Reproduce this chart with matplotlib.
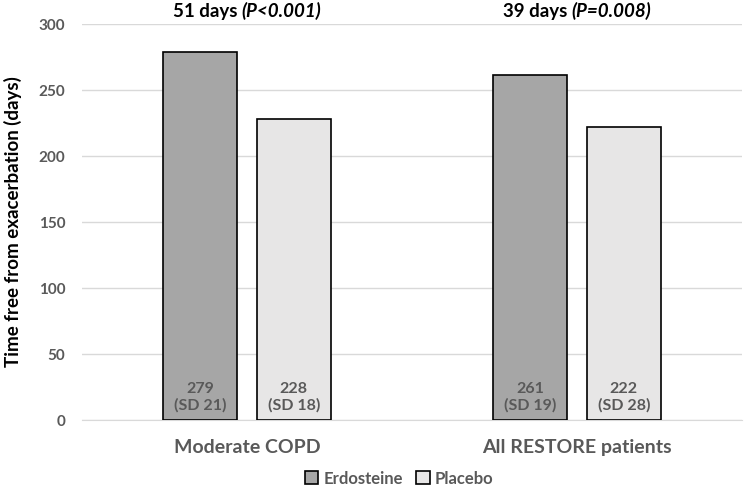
import matplotlib.pyplot as plt
import numpy as np

plt.rcParams['font.family'] = ['Lato', 'DejaVu Sans']

groups = ['Moderate COPD', 'All RESTORE patients']
erdosteine = [279, 261]
placebo = [228, 222]
erd_sd = [21, 19]
pla_sd = [18, 28]
headers = [('51 days ', '(P<0.001)'), ('39 days ', '(P=0.008)')]

grey_txt = '#595959'
fig = plt.figure(figsize=(7.53, 4.96), dpi=100)
ax = fig.add_axes([0.1089, 0.1532, 0.8765, 0.7984])

x = np.arange(len(groups))
w = 0.224
off = 0.142
b1 = ax.bar(x - off, erdosteine, w, color='#A6A6A6', edgecolor='black', linewidth=1.2,
            label='Erdosteine', zorder=3)
b2 = ax.bar(x + off, placebo, w, color='#E7E6E6', edgecolor='black', linewidth=1.2,
            label='Placebo', zorder=3)

ax.set_xlim(-0.5, 1.5)
ax.set_ylim(0, 300)

renderer = fig.canvas.get_renderer()
for i in range(len(groups)):
    ax.text(x[i] - off, 17, f'{erdosteine[i]}\n(SD {erd_sd[i]})', ha='center', va='center',
            fontsize=11.5, fontweight='bold', color=grey_txt, zorder=4, linespacing=1.2)
    ax.text(x[i] + off, 17, f'{placebo[i]}\n(SD {pla_sd[i]})', ha='center', va='center',
            fontsize=11.5, fontweight='bold', color=grey_txt, zorder=4, linespacing=1.2)
    # header above each group, centred as one piece
    t1 = ax.annotate(headers[i][0], xy=(x[i], 1.0), xycoords=('data', 'axes fraction'),
                     xytext=(0, 3), textcoords='offset points', ha='right', va='bottom',
                     fontsize=13.5, fontweight='bold', color='black')
    t2 = ax.annotate(headers[i][1], xy=(x[i], 1.0), xycoords=('data', 'axes fraction'),
                     xytext=(0, 3), textcoords='offset points', ha='left', va='bottom',
                     fontsize=13.5, fontweight='bold', fontstyle='italic', color='black')
    w1 = t1.get_window_extent(renderer).width
    w2 = t2.get_window_extent(renderer).width
    shift = (w1 - w2) / 2 * 72 / fig.dpi
    t1.set_position((shift, 3))
    t2.set_position((shift, 3))

ax.set_yticks(range(0, 301, 50))
ax.grid(axis='y', color='#D9D9D9', linewidth=1, zorder=0)
for s in ['top', 'right', 'left']:
    ax.spines[s].set_visible(False)
ax.spines['bottom'].set_color('#D9D9D9')
ax.tick_params(length=0)
ax.tick_params(axis='y', labelsize=11, labelcolor=grey_txt, pad=12)
ax.tick_params(axis='x', labelsize=14, labelcolor=grey_txt, pad=14)
for lbl in ax.get_yticklabels() + ax.get_xticklabels():
    lbl.set_fontweight('bold')
ax.set_xticks(x)
ax.set_xticklabels(groups)
ax.set_ylabel('Time free from exacerbation (days)', fontsize=13.5, fontweight='bold', labelpad=12)

leg = fig.legend(handles=[b1, b2], loc='center', bbox_to_anchor=(0.53, 0.035), ncol=2,
                 frameon=False, fontsize=12, handlelength=0.8, handleheight=0.8,
                 handletextpad=0.3, columnspacing=0.8)
for t in leg.get_texts():
    t.set_color(grey_txt)
    t.set_fontweight('bold')

fig.savefig('out.png', dpi=100)
